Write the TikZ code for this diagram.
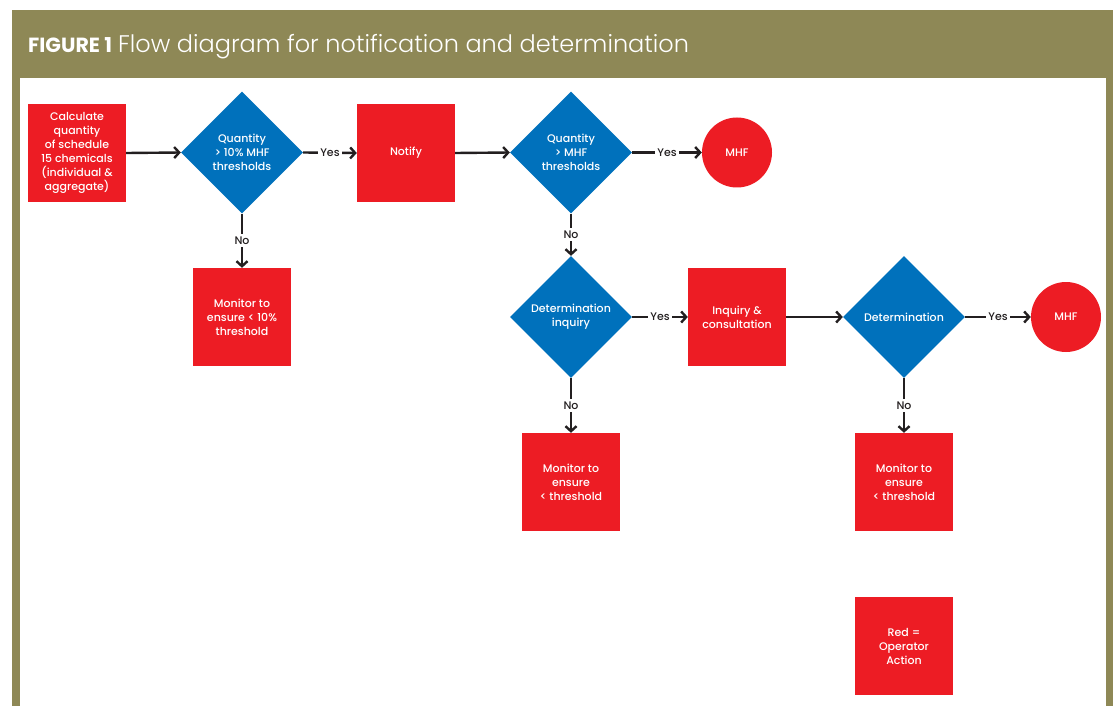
\documentclass[tikz,border=0pt]{standalone}
\usepackage{fontspec}
\setmainfont{Poppins}
\newfontfamily\titlelight{Poppins Light}
\newfontfamily\medium{Poppins Medium}
\usetikzlibrary{shapes.geometric,arrows.meta}
\definecolor{olive}{HTML}{8E8856}
\definecolor{boxred}{HTML}{ED1C24}
\definecolor{dblue}{HTML}{0071BC}
\definecolor{ink}{HTML}{231F20}
\tikzset{
  boxfont/.style={font=\medium\fontsize{11}{14}\selectfont},
  redbox/.style={rectangle,fill=boxred,text=white,minimum width=98pt,minimum height=98pt,inner sep=0pt,align=center,boxfont},
  decision/.style={diamond,fill=dblue,text=white,minimum width=122pt,minimum height=122pt,inner sep=0pt,align=center,boxfont},
  endcircle/.style={circle,fill=boxred,text=white,minimum size=70pt,inner sep=0pt,boxfont},
  conn/.style={draw=ink,line width=2.4pt,-{Straight Barb[length=5pt,width=11pt,line width=2.4pt]}},
  lbl/.style={fill=white,text=ink,inner sep=2.5pt,font=\medium\fontsize{11}{12}\selectfont}
}
\begin{document}
\begin{tikzpicture}[x=1pt,y=-1pt]
\useasboundingbox (0,0) rectangle (1120,706);
\fill[white] (0,0) rectangle (1120,706);
\fill[olive] (12,10) rectangle (1113,706);
\fill[white] (20,78) rectangle (1106,706);
\node[anchor=base west,text=white,inner sep=0pt] (title) at (28,52.5)
  {{\fontsize{20.5}{22}\selectfont\bfseries FIGURE 1}\hspace{6pt}{\titlelight\fontsize{24}{26}\selectfont Flow diagram for notification and determination}};

\node[redbox] (calc) at (77,153) {Calculate\\quantity\\of schedule\\15 chemicals\\(individual \&\\aggregate)};
\node[decision] (q1) at (242,152.5) {Quantity\\> 10\% MHF\\thresholds};
\node[redbox] (notify) at (406,153) {Notify};
\node[redbox] (mon1) at (242,317) {Monitor to\\ensure < 10\%\\threshold};
\node[decision] (q2) at (571,152.5) {Quantity\\> MHF\\thresholds};
\node[endcircle] (mhf1) at (737,152.5) {MHF};
\node[decision] (dinq) at (571,317) {Determination\\inquiry};
\node[redbox] (inq) at (737,317) {Inquiry \&\\consultation};
\node[decision] (det) at (904,317) {Determination};
\node[endcircle] (mhf2) at (1066,317) {MHF};
\node[redbox] (mon2) at (571,482) {Monitor to\\ensure\\< threshold};
\node[redbox] (mon3) at (904,482) {Monitor to\\ensure\\< threshold};
\node[redbox] (legend) at (904,646) {Red =\\Operator\\Action};

\draw[conn] (calc.east) -- (q1.west);
\draw[conn] (q1.east) -- node[lbl]{Yes} (notify.west);
\draw[conn] (q1.south) -- node[lbl]{No} (mon1.north);
\draw[conn] (notify.east) -- (q2.west);
\draw[conn] (q2.east) -- node[lbl]{Yes} (mhf1.west);
\draw[conn] (q2.south) -- node[lbl]{No} (dinq.north);
\draw[conn] (dinq.east) -- node[lbl]{Yes} (inq.west);
\draw[conn] (dinq.south) -- node[lbl]{No} (mon2.north);
\draw[conn] (inq.east) -- (det.west);
\draw[conn] (det.east) -- node[lbl]{Yes} (mhf2.west);
\draw[conn] (det.south) -- node[lbl]{No} (mon3.north);
\end{tikzpicture}
\end{document}
